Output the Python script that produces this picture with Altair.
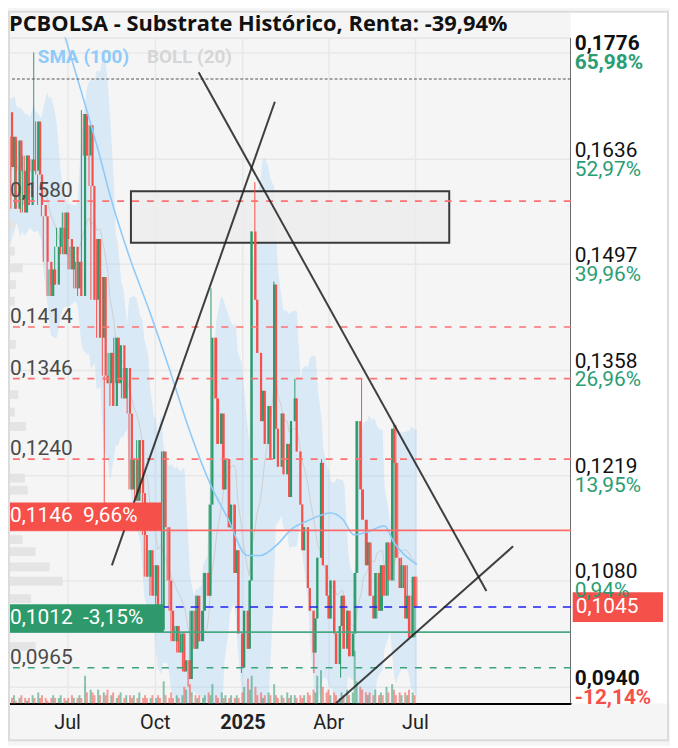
import altair as alt
import pandas as pd

TITLE = "PCBOLSA - Substrate Histórico, Renta: -39,94%"

# ---------------- data ----------------
first_open = 0.1697
closes = [
    0.1625, 0.1665, 0.1570, 0.1660, 0.1620, 0.1565, 0.1640, 0.1575, 0.1635, 0.1620,
    0.1685, 0.1615, 0.1575, 0.1560, 0.1500, 0.1455, 0.1490, 0.1470, 0.1520, 0.1545,
    0.1510, 0.1565, 0.1530, 0.1490, 0.1520, 0.1465, 0.1500, 0.1455, 0.1695, 0.1640,
    0.1680, 0.1600, 0.1450, 0.1530, 0.1400, 0.1480, 0.1350, 0.1340, 0.1380, 0.1310,
    0.1400, 0.1340, 0.1390, 0.1320, 0.1360, 0.1300, 0.1200, 0.1240, 0.1185, 0.1265,
    0.1195, 0.1140, 0.1085, 0.1120, 0.1060, 0.1100, 0.1040, 0.1015, 0.1250, 0.1150,
    0.1080, 0.1040, 0.1000, 0.1020, 0.0985, 0.1010, 0.0960, 0.0975, 0.0950, 0.1040,
    0.0990, 0.1060, 0.1000, 0.1040, 0.1090, 0.1060, 0.1180, 0.1400, 0.1320, 0.1260,
    0.1300, 0.1200, 0.1240, 0.1150, 0.1180, 0.1090, 0.1120, 0.1010, 0.0965, 0.1040,
    0.0990, 0.1080, 0.1540, 0.1450, 0.1380, 0.1290, 0.1330, 0.1260, 0.1310, 0.1240,
    0.1470, 0.1280, 0.1230, 0.1300, 0.1220, 0.1260, 0.1190, 0.1290, 0.1320, 0.1250,
    0.1180, 0.1120, 0.1150, 0.1070, 0.1040, 0.0985, 0.1030, 0.1110, 0.1235, 0.1100,
    0.1060, 0.1030, 0.1080, 0.1010, 0.0970, 0.1020, 0.1060, 0.0990, 0.1040, 0.0980,
    0.1010, 0.1090, 0.1290, 0.1200, 0.1160, 0.1100, 0.1130, 0.1060, 0.1030, 0.1090,
    0.1040, 0.1100, 0.1060, 0.1130, 0.1080, 0.1280, 0.1235, 0.1110, 0.1070, 0.1100,
    0.1030, 0.1060, 0.1005, 0.1085, 0.1045,
]
high_over = {10: 0.1776, 28: 0.1700, 77: 0.1465, 93: 0.1605, 100: 0.1474,
             108: 0.1346, 118: 0.1240, 133: 0.1346, 145: 0.1285, 146: 0.1285}
low_over = {37: 0.1182, 68: 0.0940, 88: 0.0958, 115: 0.0958, 125: 0.0952}
volumes = [
    2, 3, 1, 2, 3, 2, 1, 2, 3, 2,
    4, 2, 3, 2, 1, 2, 3, 2, 2, 3,
    2, 1, 2, 3, 2, 2, 3, 2, 10, 4,
    5, 4, 3, 5, 3, 4, 3, 5, 3, 4,
    2, 3, 4, 2, 3, 3, 2, 3, 2, 4,
    2, 3, 2, 2, 3, 2, 3, 2, 8, 3,
    2, 4, 2, 3, 2, 3, 6, 5, 7, 4,
    3, 2, 3, 2, 3, 4, 3, 7, 3, 2,
    4, 2, 3, 2, 3, 2, 3, 2, 4, 6,
    9, 5, 10, 6, 3, 4, 2, 3, 4, 3,
    7, 3, 2, 3, 2, 4, 2, 3, 3, 2,
    3, 2, 3, 4, 3, 5, 4, 10, 12, 6,
    4, 5, 3, 4, 3, 2, 4, 3, 5, 3,
    4, 19, 8, 6, 5, 4, 3, 4, 3, 5,
    3, 4, 3, 6, 4, 7, 5, 3, 4, 3,
    4, 3, 5, 4, 3,
]

sma_idx = [22, 27, 35, 39, 46, 53, 61, 68, 77, 83, 90, 95, 102, 107, 113,
           122, 126, 130, 135, 142, 145, 149, 154]
sma_val = [0.1800, 0.1741, 0.1636, 0.1588, 0.1508, 0.1440, 0.1360, 0.1283, 0.1205,
           0.1161, 0.1113, 0.1113, 0.1128, 0.1147, 0.1159, 0.1169, 0.1161, 0.1140,
           0.1144, 0.1152, 0.1130, 0.1115, 0.1101]

prof_price = [0.1548, 0.1514, 0.1492, 0.1470, 0.1448, 0.1391, 0.1325, 0.1302, 0.1283,
              0.1215, 0.1199, 0.1134, 0.1118, 0.1098, 0.1079, 0.1056, 0.0993]
prof_vol = [1.2, 1.2, 2.6, 1.4, 1.2, 1.4, 1.8, 1.2, 3.2, 3.0, 3.5, 2.6, 4.9, 7.4, 9.7, 4.1, 4.9]

tick_vals = [0.1776, 0.1636, 0.1497, 0.1358, 0.1219, 0.1080, 0.0940]
tick_labs = ["0,1776", "0,1636", "0,1497", "0,1358", "0,1219", "0,1080", "0,0940"]
tick_pcts = ["65,98%", "52,97%", "39,96%", "26,96%", "13,95%", "0,94%", "-12,14%"]

dash_red_levels = [0.1580, 0.1414, 0.1346, 0.1240]
dash_red_labels = ["0,1580", "0,1414", "0,1346", "0,1240"]
green_dash_level = [0.0965]
green_dash_label = ["0,0965"]
solid_red_level = [0.1146]
solid_red_label = ["0,1146\u00a0\u00a09,66%"]
solid_green_level = [0.1012]
solid_green_label = ["0,1012\u00a0\u00a0-3,15%"]
last_price = [0.1045]
last_label = ["0,1045"]
dotted_level = [0.1741]

trend_id = ["a", "a", "b", "b", "c", "c"]
trend_date = ["2024-11-16", "2025-09-14", "2024-08-17", "2025-02-04", "2025-04-09", "2025-10-12"]
trend_price = [0.1750, 0.1066, 0.1100, 0.1711, 0.0918, 0.1125]

box_date = ["2024-09-06", "2025-08-06"]
box_price = [0.1525, 0.1593]

x_ticks = ["2024-07-01", "2024-10-01", "2025-01-01", "2025-04-01", "2025-07-01"]

# ---------------- layout / styles ----------------
W, H = 567, 671
YMIN, YMAX = 0.09178, 0.17956
PXU = H / (YMAX - YMIN)
XDOM = ["2024-04-30T00:00:00", "2025-12-11T12:00:00"]
GREEN = "#2e9a6b"
RED = "#f5504a"
FONT = "Roboto"
FS = 21

dates = pd.bdate_range("2024-04-29", periods=2 * len(closes))[::2]
opens = [first_open] + closes[:-1]
rows = []
for i, (d, o, c, v) in enumerate(zip(dates, opens, closes, volumes)):
    hi = high_over.get(i, max(o, c))
    lo = low_over.get(i, min(o, c))
    rows.append({"date": d.strftime("%Y-%m-%d"), "open": o, "close": c,
                 "high": hi, "low": lo, "volume": v,
                 "dir": "up" if c >= o else "down"})
df = pd.DataFrame(rows)
roll = df["close"].rolling(10, min_periods=3)
df["mid"] = roll.mean().bfill()
df["sd"] = roll.std().bfill()
df["up_b"] = df["mid"] + 2 * df["sd"]
df["lo_b"] = df["mid"] - 2 * df["sd"]

sma_df = pd.DataFrame({"date": [df["date"][i] for i in sma_idx], "v": sma_val})
prof_df = pd.DataFrame({"p1": [p - 0.00058 for p in prof_price],
                        "p2": [p + 0.00058 for p in prof_price],
                        "zero": [0] * len(prof_price), "v": prof_vol})

XS = alt.Scale(domain=XDOM, nice=False)
YS = alt.Scale(domain=[YMIN, YMAX], nice=False, zero=False)
DIRC = alt.Color("dir:N", scale=alt.Scale(domain=["up", "down"], range=[GREEN, RED]), legend=None)


def X(f, **kw):
    return alt.X(f, type="temporal", scale=XS, axis=None, **kw)


def Y(f, **kw):
    return alt.Y(f, type="quantitative", scale=YS, axis=None, **kw)


def Y2(f):
    return alt.Y2(f)


base = alt.Chart(df)

# axes + grid layer (invisible points)
month_expr = ("month(datum.value)==0 ? timeFormat(datum.value,'%Y') : "
              "['Ene','Feb','Mar','Abr','May','Jun','Jul','Ago','Sep','Oct','Nov','Dic'][month(datum.value)]")
axes = base.mark_point(opacity=0).encode(
    x=alt.X("date:T", scale=XS, title=None,
            axis=alt.Axis(values=x_ticks, labelExpr=month_expr, grid=True, gridColor="#e8e8e8",
                          gridWidth=1.5, domainColor="#000", domainWidth=2, ticks=False,
                          labelFont=FONT, labelFontSize=20, labelColor="#222", labelPadding=9,
                          labelFontWeight={"condition": {"test": "month(datum.value)==0", "value": "bold"},
                                           "value": "normal"})),
    y=alt.Y("close:Q", scale=YS, title=None,
            axis=alt.Axis(orient="right", values=tick_vals, labels=False, grid=True,
                          gridColor="#e8e8e8", gridWidth=1.5, domainColor="#000",
                          domainWidth=2, ticks=False)),
)

boll = base.mark_area(color="#90caf9", opacity=0.28, clip=True).encode(
    x=X("date"), y=Y("lo_b"), y2=Y2("up_b"))
boll_mid = base.mark_line(color="#cfcfcf", strokeWidth=1, clip=True).encode(
    x=X("date"), y=Y("mid"))

prof = alt.Chart(prof_df).mark_rect(color="#e4e4e4").encode(
    x=alt.X("zero:Q", scale=alt.Scale(domain=[0, 100], nice=False), axis=None),
    x2="v:Q", y=Y("p1"), y2=Y2("p2"))

vol = base.mark_bar(size=2, opacity=0.55).encode(
    x=X("date"),
    y=alt.Y("volume:Q", scale=alt.Scale(domain=[0, 240], nice=False), axis=None),
    color=DIRC)

box = alt.Chart(pd.DataFrame({"d1": [box_date[0]], "d2": [box_date[1]],
                              "p1": [box_price[0]], "p2": [box_price[1]]})).mark_rect(
    fill="#ececec", fillOpacity=0.85, stroke="#3a3a3a", strokeWidth=2).encode(
    x=X("d1"), x2="d2", y=Y("p1"), y2=Y2("p2"))

wick = base.mark_rule(strokeWidth=1, clip=True).encode(
    x=X("date"), y=Y("low"), y2=Y2("high"), color=DIRC)
body = base.mark_bar(size=2.2, clip=True).encode(
    x=X("date"), y=Y("open"), y2=Y2("close"), color=DIRC)

sma = alt.Chart(sma_df).mark_line(color="#90caf9", strokeWidth=1.6, clip=True,
                                  interpolate="monotone").encode(x=X("date"), y=Y("v"))


def hline(levels, **kw):
    return alt.Chart(pd.DataFrame({"v": levels})).mark_rule(**kw).encode(y=Y("v"))


l_red_dash = hline(dash_red_levels, color="#ff7070", strokeWidth=1.6, strokeDash=[7, 8])
l_green_dash = hline(green_dash_level, color="#3aa57a", strokeWidth=1.6, strokeDash=[7, 8])
l_red = hline(solid_red_level, color="#ff6b6b", strokeWidth=1.8)
l_green = hline(solid_green_level, color="#4aa883", strokeWidth=1.8)
l_blue = hline(last_price, color="#2020f0", strokeWidth=1.6, strokeDash=[8, 7])
l_dot = hline(dotted_level, color="#555", strokeWidth=1.2, strokeDash=[3, 2])

trend = alt.Chart(pd.DataFrame({"id": trend_id, "date": trend_date, "p": trend_price})).mark_line(
    color="#1e1e1e", strokeWidth=2, opacity=0.85, clip=True).encode(
    x=X("date"), y=Y("p"), detail="id:N")


def text_layer(vals, labs, **kw):
    return alt.Chart(pd.DataFrame({"v": vals, "t": labs})).mark_text(font=FONT, **kw).encode(
        y=Y("v"), text="t:N")


left_lab_red = text_layer(dash_red_levels, dash_red_labels, align="left", baseline="alphabetic",
                          dy=-4, fontSize=FS, color="#4a4a4a").encode(x=alt.value(2))
left_lab_green = text_layer(green_dash_level, green_dash_label, align="left", baseline="alphabetic",
                            dy=-4, fontSize=FS, color="#4a4a4a").encode(x=alt.value(2))

BOXH = 28 / PXU
redbox = alt.Chart(pd.DataFrame({"v": solid_red_level, "v2": [solid_red_level[0] + BOXH]})).mark_rect(
    color="#f5504a").encode(x=alt.value(0), x2=alt.value(155), y=Y("v"), y2=Y2("v2"))
greenbox = alt.Chart(pd.DataFrame({"v": solid_green_level, "v2": [solid_green_level[0] + BOXH]})).mark_rect(
    color="#2e9a6b").encode(x=alt.value(0), x2=alt.value(157), y=Y("v"), y2=Y2("v2"))
redbox_t = text_layer(solid_red_level, solid_red_label, align="left", baseline="middle", dy=-14,
                      fontSize=FS, color="white").encode(x=alt.value(2))
greenbox_t = text_layer(solid_green_level, solid_green_label, align="left", baseline="middle", dy=-14,
                        fontSize=FS, color="white").encode(x=alt.value(2))

LH = 15 / PXU
lastbox = alt.Chart(pd.DataFrame({"v": [last_price[0] - LH], "v2": [last_price[0] + LH]})).mark_rect(
    color="#f5504a", clip=False).encode(x=alt.value(W + 2), x2=alt.value(W + 93), y=Y("v"), y2=Y2("v2"))
lastbox_t = text_layer(last_price, last_label, align="left", baseline="middle", fontSize=FS,
                       color="white").encode(x=alt.value(W + 5))

tick_df = pd.DataFrame({"v": tick_vals, "t": tick_labs, "p": tick_pcts,
                        "b": ["b"] + ["n"] * 5 + ["b"],
                        "c": ["g"] * 6 + ["r"]})
PCTC = alt.Color("c:N", scale=alt.Scale(domain=["g", "r"], range=["#2a9d74", "#f5504a"]), legend=None)
rt_norm = alt.Chart(tick_df).transform_filter("datum.b=='n'").mark_text(
    font=FONT, align="left", baseline="alphabetic", dy=-2, fontSize=FS, color="#111").encode(
    x=alt.value(W + 4), y=Y("v"), text="t:N")
rt_bold = alt.Chart(tick_df).transform_filter("datum.b=='b'").mark_text(
    font=FONT, align="left", baseline="alphabetic", dy=-2, fontSize=FS, fontWeight="bold",
    color="#111").encode(x=alt.value(W + 4), y=Y("v"), text="t:N")
rp_norm = alt.Chart(tick_df).transform_filter("datum.b=='n'").mark_text(
    font=FONT, align="left", baseline="top", dy=0, fontSize=FS).encode(
    x=alt.value(W + 4), y=Y("v"), text="p:N", color=PCTC)
rp_bold = alt.Chart(tick_df).transform_filter("datum.b=='b'").mark_text(
    font=FONT, align="left", baseline="top", dy=0, fontSize=FS, fontWeight="bold").encode(
    x=alt.value(W + 4), y=Y("v"), text="p:N", color=PCTC)

deco = alt.Chart(pd.DataFrame({"k": [0]}))
legend_sma = deco.mark_text(text="SMA (100)", font=FONT, fontSize=19, fontWeight="bold", align="left",
                            baseline="middle", color="#90caf9").encode(x=alt.value(30), y=alt.value(20))
legend_boll = deco.mark_text(text="BOLL (20)", font=FONT, fontSize=19, fontWeight="bold", align="left",
                             baseline="middle", color="#d6d6d6").encode(x=alt.value(140), y=alt.value(20))

# decoration: white area behind the right-hand labels, frame, title
right_white = deco.mark_rect(color="white", clip=False).encode(
    x=alt.value(W), x2=alt.value(W + 100), y=alt.value(-27), y2=alt.value(H))
frame = deco.mark_rect(fill=None, stroke="#dcdcdc", strokeWidth=2, clip=False).encode(
    x=alt.value(1), x2=alt.value(W + 98), y=alt.value(-26), y2=alt.value(H + 37))
title_t = deco.mark_text(text=TITLE, font="Open Sans", fontSize=22, fontWeight="bold",
                         color="#111", align="left", baseline="middle", clip=False).encode(
    x=alt.value(1), y=alt.value(-14))

chart = alt.layer(
    right_white, axes, boll, boll_mid, prof, vol, box, wick, body, sma,
    l_red_dash, l_green_dash, l_red, l_green, l_blue, l_dot, trend,
    left_lab_red, left_lab_green, redbox, greenbox, redbox_t, greenbox_t,
    lastbox, lastbox_t, rt_norm, rt_bold, rp_norm, rp_bold, legend_sma, legend_boll,
    frame, title_t,
).resolve_scale(x="independent", y="independent", color="independent").properties(
    width=W, height=H,
    padding={"left": 0, "top": 27, "right": 100, "bottom": 40},
    autosize=alt.AutoSizeParams(type="none"),
).configure_view(stroke=None, fill="white").configure(background="#f5f5f5")

chart.save("out.html", embed_options={"renderer": "svg", "actions": False})
